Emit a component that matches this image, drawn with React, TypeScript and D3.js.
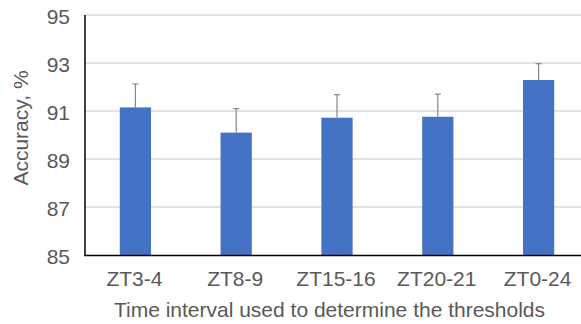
import React from "react";
import * as d3 from "d3";

const categories = ["ZT3-4", "ZT8-9", "ZT15-16", "ZT20-21", "ZT0-24"];
const accuracy = [91.15, 90.1, 90.72, 90.76, 92.29];
const errorUpper = [92.13, 91.1, 91.68, 91.7, 92.97];
const yTicks = [85, 87, 89, 91, 93, 95];

const W = 581;
const H = 324;

export default function App() {
  const x = d3.scaleBand<string>().domain(categories).range([85, 589]).paddingInner(0.69).paddingOuter(0.345);
  const y = d3.scaleLinear().domain([85, 95]).range([255, 15]);
  const font = "'Liberation Sans', Arial, sans-serif";
  const bw = x.bandwidth();
  return (
    <svg width={W} height={H} style={{ position: "absolute", left: 0, top: 0, background: "#fff" }}>
      {yTicks.map((t) => (
        <g key={t}>
          {t !== 85 && <line x1={85} x2={W} y1={y(t)} y2={y(t)} stroke="#d9d9d9" strokeWidth={1.3} />}
          <text x={70} y={y(t) + 8.5} textAnchor="end" fontFamily={font} fontSize={21} fill="#595959">
            {t}
          </text>
        </g>
      ))}
      {categories.map((c, i) => {
        const cx = (x(c) as number) + bw / 2;
        return (
          <g key={c}>
            <rect x={x(c)} y={y(accuracy[i])} width={bw} height={y(85) - y(accuracy[i])} fill="#4472C4" />
            <line x1={cx} x2={cx} y1={y(accuracy[i])} y2={y(errorUpper[i])} stroke="#888" strokeWidth={1.2} />
            <line x1={cx - 3} x2={cx + 3} y1={y(errorUpper[i])} y2={y(errorUpper[i])} stroke="#888" strokeWidth={1.2} />
            <text x={cx - 1} y={286} textAnchor="middle" fontFamily={font} fontSize={21} fill="#595959">
              {c}
            </text>
          </g>
        );
      })}
      <line x1={85} x2={85} y1={15} y2={256} stroke="#000" strokeWidth={1.5} />
      <line x1={84.25} x2={W} y1={255.5} y2={255.5} stroke="#000" strokeWidth={1.5} />
      <text x={329.5} y={317} textAnchor="middle" fontFamily={font} fontSize={21} fill="#595959">
        Time interval used to determine the thresholds
      </text>
      <text
        transform={`translate(28,128) rotate(-90)`}
        textAnchor="middle"
        fontFamily={font}
        fontSize={21}
        fill="#595959"
      >
        Accuracy, %
      </text>
    </svg>
  );
}
